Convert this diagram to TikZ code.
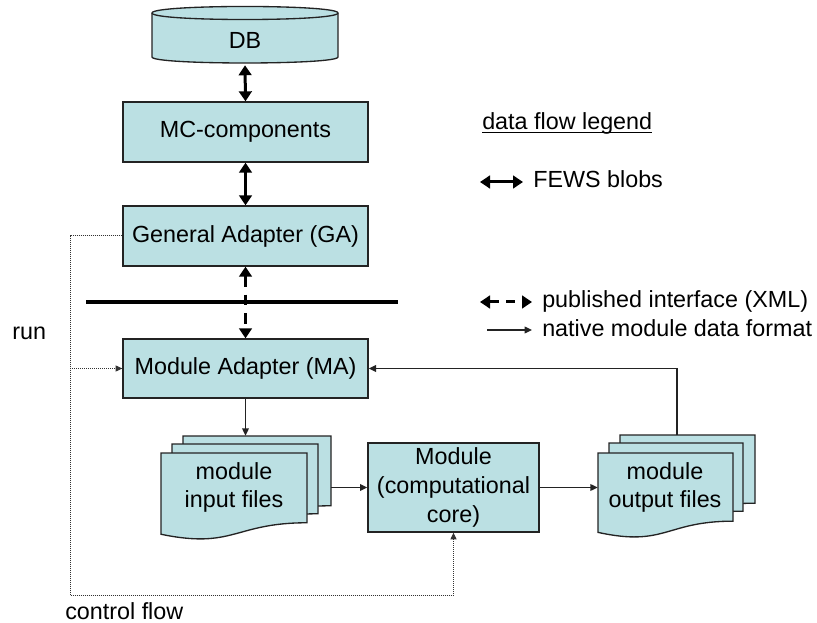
\documentclass[tikz,border=0pt]{standalone}
\usepackage{fontspec}
\setmainfont{Liberation Sans}
\usetikzlibrary{arrows.meta}
\definecolor{boxfill}{RGB}{187,224,227}
\definecolor{edge}{RGB}{35,35,35}

% one file page: a sheet with a wavy bottom edge (x, y, width, height)
\newcommand\docsheet[4]{%
  \filldraw[sheet] (#1,#2) -- ({#1+#3},#2) -- ({#1+#3},{#2+0.802*#4})
    .. controls ({#1+0.5*#3},{#2+0.802*#4}) and ({#1+0.5*#3},{#2+1.1075*#4}) ..
    (#1,{#2+0.934*#4}) -- cycle;}

\begin{document}
\begin{tikzpicture}[x=0.75pt,y=-0.75pt,
  every node/.style={font=\fontsize{17.5}{21.5}\selectfont, inner sep=0pt, text=black},
  box/.style={draw=edge, line width=1pt, fill=boxfill, align=center,
              minimum width=245*0.75pt, minimum height=60*0.75pt},
  sheet/.style={draw=edge, line width=1pt, fill=boxfill},
  blob/.style={draw=black, line width=2.25pt,
               {Triangle[length=7.5pt,width=9.5pt]}-{Triangle[length=7.5pt,width=9.5pt]}},
  published/.style={draw=black, line width=2.25pt, dash pattern=on 8pt off 6pt,
               {Triangle[length=7.5pt,width=9.5pt]}-{Triangle[length=7.5pt,width=9.5pt]}},
  native/.style={draw=edge, line width=1pt, -{Triangle[length=5.5pt,width=5pt]}},
  ctrl/.style={draw=black!80, line width=0.75pt, dash pattern=on 0.75pt off 0.75pt},
  ctrlarrow/.style={ctrl, -{Triangle[length=5pt,width=4.5pt]}}
]
\useasboundingbox (0,0) rectangle (817,623);

% database cylinder
\filldraw[sheet] (152,13) -- (152,57) .. controls (152,65) and (338,65) .. (338,57)
  -- (338,13) .. controls (338,4.3) and (152,4.3) .. (152,13) -- cycle;
\draw[edge, line width=1pt] (152,13) .. controls (152,21.7) and (338,21.7) .. (338,13);
\node[minimum width=186*0.75pt, minimum height=58*0.75pt] (db) at (245,36) {};
\node (dblabel) at (245,40.5) {DB};

% main chain of components
\node[box] (mc) at (245.5,132) {MC-components};
\node[box] (ga) at (245.5,236) {General Adapter (GA)};
\node[box, minimum height=59*0.75pt] (ma) at (245.5,368.5) {Module Adapter (MA)};
\node[box, minimum width=171*0.75pt, minimum height=89*0.75pt] (core) at (453.5,487.5)
  {Module\\(computational\\core)};

% stacks of files
\docsheet{183}{436}{148}{87}
\docsheet{172}{444}{146}{87}
\docsheet{161}{453}{146}{87}
\node[minimum width=170*0.75pt, minimum height=103*0.75pt] (infiles) at (246,487.5) {};
\node[align=center] (intext) at (234,487.5) {module\\input files};

\docsheet{620}{435}{135}{85}
\docsheet{609}{443}{134}{85}
\docsheet{598}{453}{135}{85}
\node[minimum width=157*0.75pt, minimum height=105*0.75pt] (outfiles) at (676.5,487.5) {};
\node[align=center] (outtext) at (665,487.5) {module\\output files};

% interface boundary
\coordinate (barL) at (86,302);
\coordinate (barR) at (398,302);
\draw[line width=3pt] (barL) -- (barR);

% data flow
\draw[blob] (db.south) -- (mc.north);
\draw[blob] (mc) -- (ga);
\draw[published] (ga) -- (ma);
\draw[native] (ma.south) -- (ma.south |- infiles.north);
\draw[native] (infiles) -- (core);
\draw[native] (core.east) -- (core.east -| outfiles.west);
\coordinate (fb) at (677,435);
\draw[native] (fb) |- (ma.east);

% control flow
\coordinate (cfTop) at (70,236);
\coordinate (cfBot) at (70,595);
\draw[ctrlarrow] (ga.west) -- (cfTop) -- (cfBot) -| (core.south);
\draw[ctrlarrow] (cfTop |- ma.west) -- (ma.west);
\node[anchor=base west] (run) at (12,340) {run};
\node[anchor=base west] (cflabel) at (65,619) {control flow};

% legend
\node[anchor=base west] (lgtitle) at (482,129.5) {data flow legend};
\draw[line width=0.9pt] ([yshift=-2.3pt]lgtitle.base west) -- ([yshift=-2.3pt]lgtitle.base east);

\coordinate (l1a) at (480,182);
\coordinate (l1b) at (523,182);
\draw[blob] (l1a) -- (l1b);
\node[anchor=base west] (l1t) at (533,188) {FEWS blobs};

\coordinate (l2a) at (480,302);
\coordinate (l2b) at (532,302);
\draw[published, dash pattern=on 7pt off 5.5pt] (l2a) -- (l2b);
\node[anchor=base west] (l2t) at (542,308) {published interface (XML)};

\coordinate (l3a) at (487,330);
\coordinate (l3b) at (532,330);
\draw[native] (l3a) -- (l3b);
\node[anchor=base west] (l3t) at (542,337) {native module data format};
\end{tikzpicture}
\end{document}
